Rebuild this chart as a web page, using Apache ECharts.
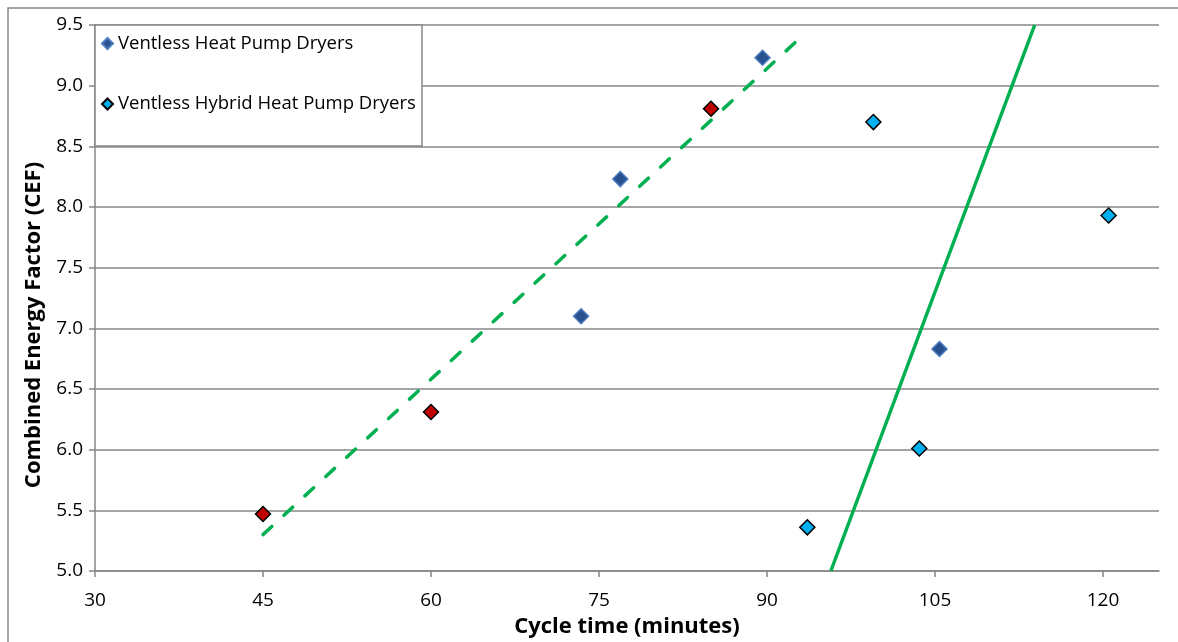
<!DOCTYPE html>
<html>
<head>
<meta charset="utf-8">
<script src="https://cdn.jsdelivr.net/npm/echarts@6/dist/echarts.min.js"></script>
<style>
  html, body { margin: 0; padding: 0; background: #fff; }
  #chart { width: 1178px; height: 642px; }
</style>
</head>
<body>
<div id="chart"></div>
<script>
// ticks
var xTicks = [30, 45, 60, 75, 90, 105, 120];
// Ventless Heat Pump Dryers [cycle time, CEF]
var heatPump = [[89.6, 9.23], [76.9, 8.23], [73.4, 7.10], [105.4, 6.83]];
// Ventless Hybrid Heat Pump Dryers
var hybrid = [[99.5, 8.70], [120.5, 7.93], [103.6, 6.01], [93.6, 5.36]];
// red points (not in legend)
var redPts = [[45, 5.47], [60, 6.31], [85, 8.81]];
// trend lines, end points
var dashedTrend = [[45, 5.30], [93.5, 9.44]];
var solidLine = [[95.7, 5.0], [113.9, 9.5]];

var gray = '#878787';
var font = 'Open Sans';

var chart = echarts.init(document.getElementById('chart'));

var option = {
    animation: false,
    backgroundColor: '#fff',
    grid: {
        left: 95, right: 19, top: 25, bottom: 71,
        outerBoundsMode: 'none'
    },
    graphic: [
        // outer chart border (right and bottom run off the picture)
        { type: 'rect', z: 1, shape: { x: 8, y: 8, width: 1300, height: 800 },
          style: { fill: null, stroke: gray, lineWidth: 1.5 } },
        // legend box
        { type: 'rect', z: 3, shape: { x: 95, y: 25, width: 327, height: 121 },
          style: { fill: '#fff', stroke: gray, lineWidth: 1.5 } }
    ],
    legend: {
        data: ['Ventless Heat Pump Dryers', 'Ventless Hybrid Heat Pump Dryers'],
        orient: 'vertical',
        left: 96, top: 29,
        itemGap: 41.5,
        itemWidth: 11, itemHeight: 11,
        z: 5,
        textStyle: { fontFamily: font, fontSize: 18.5, color: '#000' }
    },
    xAxis: {
        type: 'value',
        min: 30, max: 125, interval: 15,
        name: 'Cycle time (minutes)',
        nameLocation: 'middle',
        nameGap: 45,
        nameTextStyle: { fontFamily: font, fontSize: 22, fontWeight: 'bold', color: '#000' },
        axisLine: { onZero: false, lineStyle: { color: gray, width: 1.5 } },
        axisTick: { show: true, length: 6, customValues: xTicks, lineStyle: { color: gray, width: 1.5 } },
        axisLabel: { customValues: xTicks, margin: 20, fontFamily: font, fontSize: 19, color: '#000' },
        splitLine: { show: false }
    },
    yAxis: {
        type: 'value',
        min: 5, max: 9.5, interval: 0.5,
        name: 'Combined Energy Factor (CEF)',
        nameLocation: 'middle',
        nameRotate: 90,
        nameGap: 50,
        nameTextStyle: { fontFamily: font, fontSize: 22, fontWeight: 'bold', color: '#000', padding: [0, 54, 0, 0] },
        axisLine: { show: true, onZero: false, lineStyle: { color: gray, width: 1.5 } },
        axisTick: { show: true, length: 6, lineStyle: { color: gray, width: 1.5 } },
        axisLabel: {
            margin: 12, fontFamily: font, fontSize: 19, color: '#000',
            formatter: function (v) { return v.toFixed(1); }
        },
        splitLine: { show: true, lineStyle: { color: gray, width: 1.5 } }
    },
    series: [
        {
            name: 'Dashed trend',
            type: 'line',
            data: dashedTrend,
            symbol: 'none',
            z: 2,
            lineStyle: { color: '#00B050', width: 3.5, type: [12, 16.5], cap: 'round' }
        },
        {
            name: 'Solid line',
            type: 'line',
            data: solidLine,
            symbol: 'none',
            z: 2,
            lineStyle: { color: '#00B050', width: 3.5 }
        },
        {
            name: 'Ventless Heat Pump Dryers',
            type: 'scatter',
            data: heatPump,
            symbol: 'diamond',
            symbolSize: 15,
            z: 3,
            itemStyle: { color: '#27528E', borderColor: '#4B7BBF', borderWidth: 1.5, opacity: 1 }
        },
        {
            name: 'Ventless Hybrid Heat Pump Dryers',
            type: 'scatter',
            data: hybrid,
            symbol: 'diamond',
            symbolSize: 15,
            z: 3,
            itemStyle: { color: '#00B0F0', borderColor: '#000', borderWidth: 1.5, opacity: 1 }
        },
        {
            name: 'Red points',
            type: 'scatter',
            data: redPts,
            symbol: 'diamond',
            symbolSize: 15,
            z: 3,
            itemStyle: { color: '#C00000', borderColor: '#000', borderWidth: 1.5, opacity: 1 }
        }
    ]
};

chart.setOption(option);
window.onresize = chart.resize;
</script>
</body>
</html>
